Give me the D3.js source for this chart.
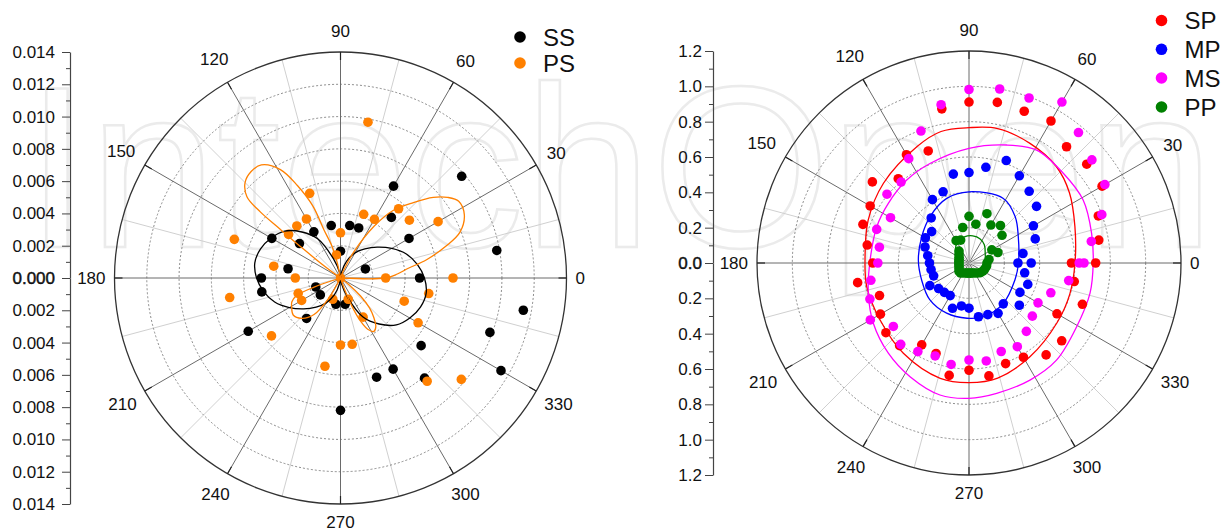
<!DOCTYPE html>
<html><head><meta charset="utf-8">
<script src="https://cdn.jsdelivr.net/npm/d3@7"></script>
<style>
body{margin:0;background:#fff}
svg{display:block}
text{font-family:"Liberation Sans",Arial,Helvetica,sans-serif}
</style>
</head><body>
<svg id="chart" width="1225" height="531"></svg>
<script>
// ---------------- DATA ----------------
const angleLabels = [0,30,60,90,120,150,180,210,240,270,300,330];
const leftAxisTicks = [0,0.002,0.004,0.006,0.008,0.010,0.012,0.014];
const rightAxisTicks = [0,0.2,0.4,0.6,0.8,1.0,1.2];

// Left panel: SS points (angle deg, radius)
const ssAngles = [0,10,20,30,40,50,60,70,80,90,100,120,140,150,170,180,190,200,210,220,230,260,270,280,290,300,310,320,330,340,350];
const ssValues = [0.00490,0.00983,0.00164,0.00490,0.00980,0.00490,0.00657,0.00330,0.00330,0.00166,0.00330,0.00330,0.00332,0.00491,0.00330,0.00490,0.00495,0.00163,0.00660,0.00163,0.00327,0.00165,0.00820,0.00165,0.00654,0.00652,0.00810,0.00652,0.01148,0.00985,0.01150];
// Left panel: PS points
const psAngles = [0,0,30,40,50,60,70,80,90,100,110,120,130,140,160,170,180,190,200,210,220,250,260,270,280,290,300,310,320,330,340,350,0];
const psValues = [0.00280,0.00697,0.00698,0.00557,0.00560,0.00420,0.00420,0.00980,0.00280,0.00145,0.00558,0.00422,0.00421,0.00420,0.00700,0.00420,0.00280,0.00697,0.00279,0.00278,0.00558,0.00140,0.00555,0.00415,0.00417,0.00140,0.00280,0.00835,0.00977,0.00555,0.00420,0.00555,0];
// Left panel: SS curve
const ssCurveAngles = [0,10,20,30,40,50,60,70,80,90,100,110,120,130,140,150,160,170,180,190,200,210,220,230,240,250,260,270,280,290,300,310,320,330,340,350];
const ssCurveValues = [0.00520,0.00483,0.00434,0.00366,0.00297,0.00235,0.00180,0.00112,0.00037,0,0.00037,0.00124,0.00279,0.00372,0.00452,0.00496,0.00527,0.00539,0.00520,0.00483,0.00434,0.00366,0.00297,0.00235,0.00180,0.00112,0.00037,0,0.00037,0.00124,0.00279,0.00372,0.00452,0.00496,0.00527,0.00539];
// Left panel: PS curve (traversal order)
const psCurveAngles = [355,0,4,8,12,17,21,27,33,37,41,46,52,57,63,68,72, 95,102,105,109,111,115,119,125,130,135,139,140.5,141,142,143.5,146, 196,199,202,206,211,218,226,234,240,246, 287,290,292,295,298,302,306,310,314,318,322,326];
const psCurveValues = [0,0.00279,0.00353,0.00421,0.00545,0.00688,0.00793,0.00861,0.00873,0.00830,0.00762,0.00650,0.00533,0.00384,0.00180,0.00050,0, 0,0.00099,0.00204,0.00316,0.00477,0.00632,0.00768,0.00855,0.00861,0.00836,0.00768,0.00644,0.00483,0.00291,0.00130,0, 0,0.00173,0.00297,0.00335,0.00353,0.00372,0.00347,0.00279,0.00136,0, 0,0.00093,0.00186,0.00297,0.00359,0.00390,0.00372,0.00322,0.00260,0.00167,0.00062,0];

// Right panel points
const spAngles = [0,0,10,20,30,40,50,60,70,80,90,100,110,120,130,140,150,160,170,180,190,200,210,220,230,240,250,260,270,280,290,300,310,320,330,340,350];
const spValues = [0.717,0.580,0.746,0.779,0.870,0.870,0.859,0.928,0.914,0.923,0.911,0.886,0.675,0.708,0.623,0.714,0.646,0.639,0.585,0.545,0.640,0.539,0.579,0.614,0.611,0.535,0.545,0.646,0.607,0.649,0.606,0.616,0.679,0.685,0.575,0.683,0.605];
const mpAngles = [0,0,10,20,30,40,50,60,70,80,90,100,110,120,130,140,150,160,170,180,190,200,210,220,230,240,250,260,270,280,290,300,310,320,330,340,350];
const mpValues = [0.352,0.277,0.310,0.399,0.421,0.499,0.530,0.570,0.617,0.550,0.512,0.511,0.429,0.414,0.333,0.276,0.285,0.265,0.237,0.224,0.218,0.213,0.256,0.225,0.217,0.213,0.273,0.247,0.256,0.309,0.311,0.329,0.302,0.372,0.333,0.354,0.320];
const msAngles = [0,0,10,20,30,40,50,60,70,80,90,100,110,120,130,140,150,160,170,180,190,200,210,220,230,240,250,260,270,280,290,300,310,320,330,340,350];
const msValues = [0.624,0.651,0.703,0.800,0.888,0.908,0.964,1.052,0.994,1.000,0.982,0.910,0.795,0.682,0.598,0.606,0.513,0.556,0.515,0.516,0.564,0.597,0.645,0.559,0.601,0.579,0.560,0.583,0.549,0.563,0.533,0.547,0.505,0.468,0.451,0.493,0.573];
const ppAngles = [0,10,20,30,40,50,60,70,80,90,100,110,120,130,140,150,160,170,180,190,200,210,220,230,240,250,260,270,280,290,300,310,320,330,340,350];
const ppValues = [0.102,0.115,0.174,0.149,0.244,0.277,0.248,0.297,0.223,0.264,0.204,0.138,0.146,0.088,0.074,0.065,0.060,0.058,0.057,0.058,0.060,0.065,0.074,0.074,0.065,0.060,0.058,0.057,0.058,0.060,0.065,0.074,0.085,0.091,0.096,0.101];

// Right panel curves
const spCurveAngles = [0,19,35,48,63,78,90,102,114,137,157,178,193,213,234,256,270,284,303,326,343];
const spCurveValues = [0.600,0.634,0.694,0.737,0.760,0.778,0.766,0.761,0.722,0.662,0.620,0.589,0.594,0.598,0.632,0.673,0.677,0.671,0.633,0.602,0.597];
const msCurveAngles = [0,13.6,28.9,43.6,59.1,72.3,90,111.4,126.9,143.5,158.5,178.3,196.7,212.2,228.2,242.6,257.6,270,282,297.5,312,329.4,346];
const msCurveValues = [0.703,0.714,0.738,0.737,0.745,0.701,0.649,0.605,0.587,0.568,0.561,0.560,0.595,0.640,0.685,0.725,0.765,0.766,0.754,0.747,0.740,0.708,0.706];
const mpCurveAngles = [0,28,45,62,90,109,130,151,177,200,223,246,268,285,310,340];
const mpCurveValues = [0.280,0.316,0.370,0.414,0.403,0.387,0.343,0.306,0.287,0.285,0.304,0.311,0.313,0.315,0.300,0.277];
const ppCurveAngles = [0,29,50,65,82,100,120,140,160,180,210,240,270,300,330];
const ppCurveValues = [0.090,0.105,0.135,0.150,0.155,0.150,0.135,0.100,0.075,0.060,0.055,0.055,0.055,0.060,0.070];

// ---------------- DRAWING ----------------
const svg = d3.select("#chart");
const deg = Math.PI / 180;
const FONT = '"Liberation Sans",Arial,Helvetica,sans-serif';

// watermark (faint outlined text, as in the reference)
svg.append("text").attr("x", 25).attr("y", 247)
  .attr("font-size", 230).attr("fill", "none")
  .attr("stroke", "#ebebeb").attr("stroke-width", 2.5)
  .text("IntechOpen");

function makePanel(cx, cy, R, max, step) {
  const r = d3.scaleLinear().domain([0, max]).range([0, R]);
  const g = svg.append("g");
  const pt = (a, v) => [cx + r(v) * Math.cos(a * deg), cy - r(v) * Math.sin(a * deg)];
  const spokes = d3.range(0, 360, 15);
  g.selectAll("line.spoke").data(spokes).enter().append("line")
    .attr("x1", cx).attr("y1", cy)
    .attr("x2", a => cx + R * Math.cos(a * deg))
    .attr("y2", a => cy - R * Math.sin(a * deg))
    .attr("stroke", a => a % 30 === 0 ? "#6a6a6a" : "#d0d0d0")
    .attr("stroke-width", 1);
  const rings = d3.range(1, Math.round(max / step)).map(i => i * step);
  g.selectAll("circle.ring").data(rings).enter().append("circle")
    .attr("cx", cx).attr("cy", cy).attr("r", v => r(v))
    .attr("fill", "none").attr("stroke", "#6e6e6e")
    .attr("stroke-width", 0.8).attr("stroke-dasharray", "2,2");
  g.append("circle").attr("cx", cx).attr("cy", cy).attr("r", R)
    .attr("fill", "none").attr("stroke", "#333").attr("stroke-width", 1.3);
  g.selectAll("line.tick").data(angleLabels).enter().append("line")
    .attr("x1", a => cx + R * Math.cos(a * deg))
    .attr("y1", a => cy - R * Math.sin(a * deg))
    .attr("x2", a => cx + (R - 8) * Math.cos(a * deg))
    .attr("y2", a => cy - (R - 8) * Math.sin(a * deg))
    .attr("stroke", "#222").attr("stroke-width", 1.2);
  g.selectAll("text.alab").data(angleLabels).enter().append("text")
    .attr("font-size", 17).attr("fill", "#111").attr("text-anchor", "middle")
    .text(a => a)
    .each(function (a) {
      const w = this.getComputedTextLength();
      const c = Math.cos(a * deg), s = Math.sin(a * deg);
      const rr = R + 9 + (w / 2) * Math.abs(c) + (s > 0 ? 12 : 9) * Math.abs(s);
      d3.select(this).attr("x", cx + rr * c).attr("y", cy - rr * s + 6);
    });
  return { g, r, pt, cx, cy, R };
}

function drawAxis(x, cy, R, max, ticks, minors, fmt, pad) {
  const up = d3.scaleLinear().domain([0, max]).range([cy, cy - R]);
  const down = d3.scaleLinear().domain([0, max]).range([cy, cy + R]);
  const f = d3.format(fmt);
  [up, down].forEach((sc, k) => {
    const ax = svg.append("g").attr("transform", `translate(${x},0)`)
      .call(d3.axisLeft(sc).tickValues(k === 0 ? ticks : ticks.slice(1))
        .tickFormat(f).tickSize(8).tickPadding(pad).tickSizeOuter(0));
    ax.selectAll("text").attr("font-size", 17).attr("font-family", FONT).attr("fill", "#111");
    ax.selectAll("line").attr("stroke", "#444");
    ax.select(".domain").attr("stroke", "#444").attr("stroke-width", 1.2);
    if (k === 0) {
      ax.selectAll(".tick text").filter(d => d === 0)
        .attr("stroke", "#111").attr("stroke-width", 0.45);
    }
    const mx = svg.append("g").attr("transform", `translate(${x},0)`)
      .call(d3.axisLeft(sc).tickValues(minors).tickFormat("").tickSize(4).tickSizeOuter(0));
    mx.selectAll("line").attr("stroke", "#444");
    mx.select(".domain").remove();
  });
}

function drawPoints(P, angles, values, color) {
  P.g.append("g").selectAll("circle").data(angles).enter().append("circle")
    .attr("cx", (a, i) => P.pt(a, values[i])[0])
    .attr("cy", (a, i) => P.pt(a, values[i])[1])
    .attr("r", 4.8).attr("fill", color);
}
function drawCurve(P, angles, values, color) {
  const pts = angles.map((a, i) => P.pt(a, values[i]));
  P.g.append("path").attr("d", d3.line().curve(d3.curveCatmullRomClosed.alpha(0.5))(pts))
    .attr("fill", "none").attr("stroke", color).attr("stroke-width", 1.3);
}
function legend(x, y, color, label) {
  svg.append("circle").attr("cx", x).attr("cy", y).attr("r", 5.8).attr("fill", color);
  svg.append("text").attr("x", x + 23).attr("y", y + 8.6).attr("font-size", 24).attr("fill", "#111").text(label);
}

// Left panel
const L = makePanel(340.5, 278, 226, 0.014, 0.002);
drawAxis(70, 278, 226, 0.014, leftAxisTicks, d3.range(1, 14, 2).map(d => d / 1000), ".3f", 7);
drawPoints(L, ssAngles, ssValues, "#000000");
drawPoints(L, psAngles, psValues, "#ff8000");
drawCurve(L, ssCurveAngles, ssCurveValues, "#000000");
drawCurve(L, psCurveAngles, psCurveValues, "#ff8000");
legend(520, 37, "#000000", "SS");
legend(520, 63, "#ff8000", "PS");

// Right panel
const Rp = makePanel(969, 263, 212, 1.2, 0.2);
drawAxis(713, 263, 212, 1.2, rightAxisTicks, d3.range(1, 12, 2).map(d => d / 10), ".1f", 3);
drawCurve(Rp, spCurveAngles, spCurveValues, "#ff0000");
drawCurve(Rp, msCurveAngles, msCurveValues, "#ff00ff");
drawCurve(Rp, mpCurveAngles, mpCurveValues, "#0000ff");
drawCurve(Rp, ppCurveAngles, ppCurveValues, "#008000");
drawPoints(Rp, spAngles, spValues, "#ff0000");
drawPoints(Rp, mpAngles, mpValues, "#0000ff");
drawPoints(Rp, msAngles, msValues, "#ff00ff");
drawPoints(Rp, ppAngles, ppValues, "#008000");
legend(1161.5, 20.5, "#ff0000", "SP");
legend(1161.5, 49.3, "#0000ff", "MP");
legend(1161.5, 78, "#ff00ff", "MS");
legend(1161.5, 107, "#008000", "PP");
</script>
</body></html>
